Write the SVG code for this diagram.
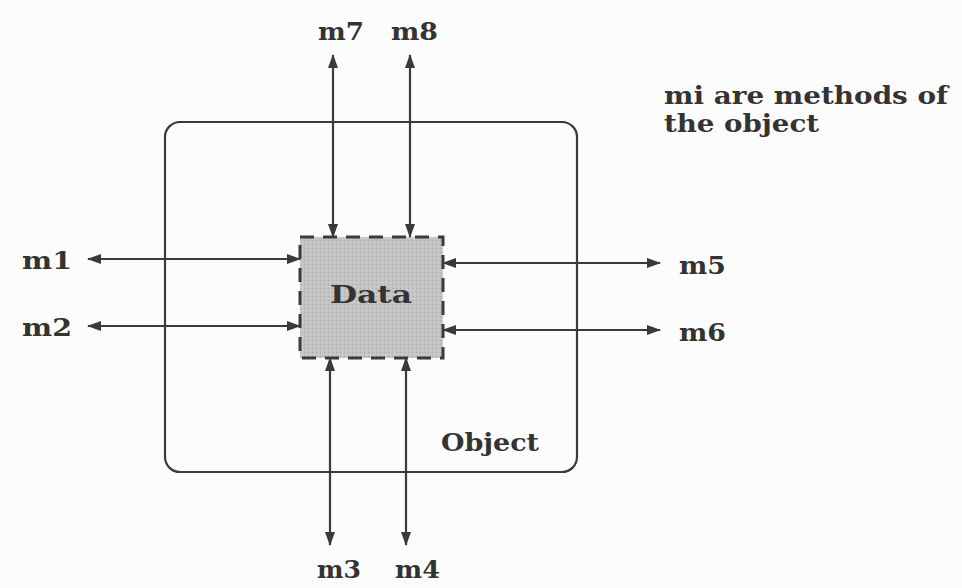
<svg xmlns="http://www.w3.org/2000/svg" width="962" height="588" viewBox="0 0 962 588">
<style>
.lbl{font-family:"DejaVu Serif","Liberation Serif",serif;font-weight:bold;fill:#333;font-size:25px}
.conn line{stroke:#3a3a3a;stroke-width:2.2;marker-start:url(#ah);marker-end:url(#ah)}
</style>
<defs>
<marker id="ah" viewBox="0 0 14 10" refX="13" refY="5" markerWidth="14" markerHeight="10" markerUnits="userSpaceOnUse" orient="auto-start-reverse">
<path d="M0,0 L14,5 L0,10 Z" fill="#3a3a3a"/>
</marker>
<pattern id="grain" width="4" height="4" patternUnits="userSpaceOnUse">
<rect width="4" height="4" fill="#c4c4c4"/>
<rect x="0" y="0" width="1" height="1" fill="#a8a8a8"/>
<rect x="2" y="2" width="1" height="1" fill="#dadada"/>
</pattern>
</defs>
<rect width="962" height="588" fill="#fcfcfc"/>
<g id="object">
<rect x="165" y="122" width="412" height="350" rx="15" fill="none" stroke="#3a3a3a" stroke-width="2.2"/>
<text class="lbl" x="441" y="451" textLength="98" lengthAdjust="spacingAndGlyphs">Object</text>
</g>
<g id="data">
<rect x="300" y="237" width="143" height="121" fill="url(#grain)" stroke="#3a3a3a" stroke-width="3" stroke-dasharray="14,9"/>
<text class="lbl" x="371" y="303" text-anchor="middle" textLength="82" lengthAdjust="spacingAndGlyphs">Data</text>
</g>
<g id="connectors" class="conn">
<line x1="333" y1="55" x2="333" y2="237"/>
<line x1="410" y1="55" x2="410" y2="237"/>
<line x1="330" y1="545" x2="330" y2="358"/>
<line x1="406" y1="545" x2="406" y2="358"/>
<line x1="88" y1="259" x2="300" y2="259"/>
<line x1="88" y1="326" x2="300" y2="326"/>
<line x1="660" y1="263" x2="443" y2="263"/>
<line x1="660" y1="330" x2="443" y2="330"/>
</g>
<g id="m1"><text class="lbl" x="22" y="269" textLength="50" lengthAdjust="spacingAndGlyphs">m1</text></g>
<g id="m2"><text class="lbl" x="22" y="336" textLength="50" lengthAdjust="spacingAndGlyphs">m2</text></g>
<g id="m5"><text class="lbl" x="679" y="274" textLength="47" lengthAdjust="spacingAndGlyphs">m5</text></g>
<g id="m6"><text class="lbl" x="679" y="341" textLength="47" lengthAdjust="spacingAndGlyphs">m6</text></g>
<g id="m7"><text class="lbl" x="318" y="40" textLength="46" lengthAdjust="spacingAndGlyphs">m7</text></g>
<g id="m8"><text class="lbl" x="391" y="40" textLength="47" lengthAdjust="spacingAndGlyphs">m8</text></g>
<g id="m3"><text class="lbl" x="317" y="578" textLength="44" lengthAdjust="spacingAndGlyphs">m3</text></g>
<g id="m4"><text class="lbl" x="395" y="578" textLength="45" lengthAdjust="spacingAndGlyphs">m4</text></g>
<g id="note">
<text class="lbl" x="664" y="104" textLength="284" lengthAdjust="spacingAndGlyphs">mi are methods of</text>
<text class="lbl" x="664" y="132" textLength="155" lengthAdjust="spacingAndGlyphs">the object</text>
</g>
</svg>
